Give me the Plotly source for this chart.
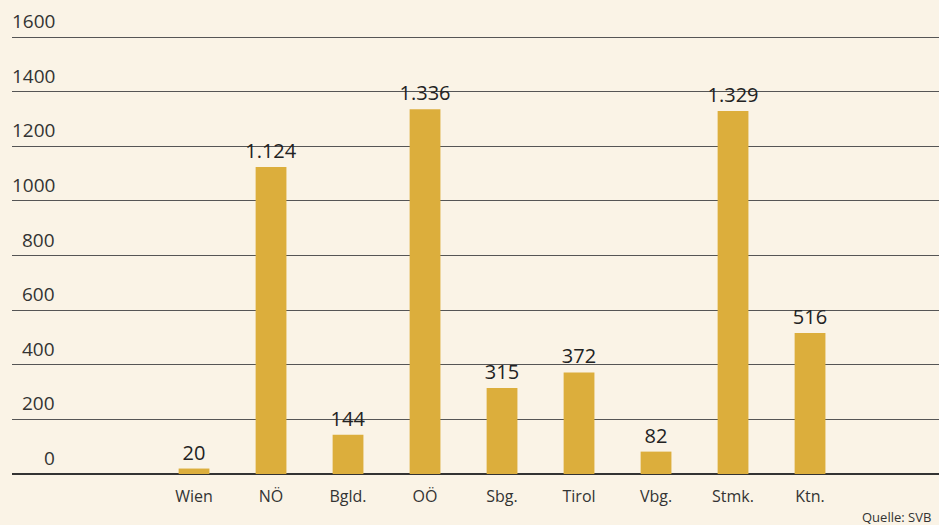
import plotly.graph_objects as go

regions = ['Wien', 'NÖ', 'Bgld.', 'OÖ', 'Sbg.', 'Tirol', 'Vbg.', 'Stmk.', 'Ktn.']
values = [20, 1124, 144, 1336, 315, 372, 82, 1329, 516]
value_labels = ['20', '1.124', '144', '1.336', '315', '372', '82', '1.329', '516']
y_ticks = [0, 200, 400, 600, 800, 1000, 1200, 1400, 1600]
source = 'Quelle: SVB'

bg = '#FAF3E6'
bar_color = '#DCAE3C'
text_color = '#333333'
font_family = 'Open Sans, Noto Sans, sans-serif'

xs = list(range(len(regions)))

fig = go.Figure()
fig.add_trace(go.Bar(
    x=xs,
    y=values,
    width=0.40,
    marker=dict(color=bar_color, line=dict(width=0)),
    text=value_labels,
    textposition='outside',
    constraintext='none',
    cliponaxis=False,
    textfont=dict(size=20, color='#222222', family=font_family),
))

# y tick labels sit above the gridlines, right aligned
annotations = [
    dict(
        x=45 / 927, xref='paper', xanchor='right',
        y=v, yref='y', yanchor='bottom', yshift=1,
        text=str(v), showarrow=False,
        font=dict(size=19, color=text_color, family=font_family),
    )
    for v in y_ticks
]
annotations.append(dict(
    x=1, xref='paper', xanchor='right', xshift=-6,
    y=0, yref='paper', yanchor='top', yshift=-32,
    text=source, showarrow=False,
    font=dict(size=13, color=text_color, family=font_family),
))

fig.update_layout(
    width=939,
    height=525,
    margin={'l': 12, 'r': 0, 't': 36, 'b': 51},
    paper_bgcolor=bg,
    plot_bgcolor=bg,
    showlegend=False,
    annotations=annotations,
    xaxis=dict(
        range=[-2.364, 9.675],
        tickvals=xs,
        ticktext=regions,
        tickfont=dict(size=16, color=text_color, family=font_family),
        ticks='outside',
        ticklen=8,
        tickcolor='rgba(0,0,0,0)',
        showgrid=False,
        zeroline=False,
        showline=False,
        fixedrange=True,
    ),
    yaxis=dict(
        range=[0, 1604],
        tickvals=y_ticks,
        showticklabels=False,
        showgrid=True,
        gridcolor='#555555',
        gridwidth=1.2,
        zeroline=True,
        zerolinecolor='#333333',
        zerolinewidth=1.5,
        showline=False,
        fixedrange=True,
    ),
)

fig.write_html('out.html', config={'displayModeBar': False},
               post_script="document.body.style.margin='0';")
